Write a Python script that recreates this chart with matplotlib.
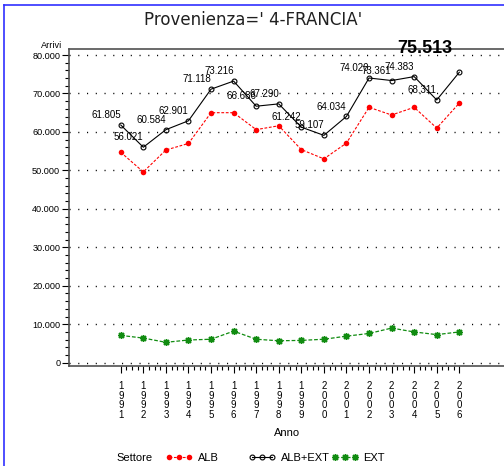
import matplotlib
matplotlib.use('Agg')
import matplotlib.pyplot as plt
from matplotlib.lines import Line2D
from matplotlib.ticker import MultipleLocator, FixedLocator, FuncFormatter

plt.rcParams['font.family'] = ['Liberation Sans', 'DejaVu Sans']

years = [1991, 1992, 1993, 1994, 1995, 1996, 1997, 1998,
         1999, 2000, 2001, 2002, 2003, 2004, 2005, 2006]
# arrivals (ALB+EXT are the printed labels)
alb = [54700, 49600, 55300, 57000, 65000, 65000, 60600, 61600,
       55400, 53000, 57100, 66400, 64400, 66400, 61000, 67500]
alb_ext = [61805, 56021, 60584, 62901, 71118, 73216, 66686, 67290,
           61242, 59107, 64034, 74020, 73361, 74383, 68311, 75513]
ext = [7100, 6400, 5300, 5900, 6100, 8200, 6100, 5700,
       5800, 6100, 6900, 7600, 9000, 8000, 7300, 8000]

title = "Provenienza=' 4-FRANCIA'"
green = '#118c11'


def fmt_num(v, pos=None):
    if v == 0:
        return '0'
    return '{:,.0f}'.format(v).replace(',', '.')


fig = plt.figure(figsize=(5.04, 4.66), dpi=100)
ax = fig.add_axes([69.3 / 504, 1 - 366 / 466, 1 - 69.3 / 504, (366 - 49) / 466])

ax.plot(years, alb, color='red', linestyle=(0, (2.5, 1.5)), linewidth=0.8,
        marker='o', markersize=4, markeredgewidth=0, label='ALB')
ax.plot(years, alb_ext, color='black', linestyle='-', linewidth=0.8,
        marker='o', markersize=3.5, markerfacecolor='none', markeredgewidth=0.8,
        label='ALB+EXT')
ax.plot(years, ext, color=green, linestyle=(0, (3, 1.5)), linewidth=0.9,
        marker=(8, 2, 0), markersize=5, markeredgewidth=1.0, label='EXT')

# value labels over the total line, the last one bigger
for i, (x, y) in enumerate(zip(years, alb_ext)):
    if i == len(years) - 1:
        ax.annotate(fmt_num(y), (x, y), xytext=(-5, 11), textcoords='offset points',
                    ha='right', va='bottom', fontsize=13, fontweight='bold',
                    family=['Liberation Sans Narrow', 'Liberation Sans'])
    else:
        ax.annotate(fmt_num(y), (x, y), xytext=(0, 3.5), textcoords='offset points',
                    ha='right', va='bottom', fontsize=7)

ax.set_xlim(1988.72, 2007.98)
ax.set_ylim(-858, 81560)

ax.yaxis.set_major_locator(MultipleLocator(10000))
ax.yaxis.set_minor_locator(MultipleLocator(2000))
ax.yaxis.set_major_formatter(FuncFormatter(fmt_num))
ax.set_xticks(years)
ax.set_xticklabels(['\n'.join(str(y)) for y in years], fontsize=7, linespacing=0.95)
quarters = [y + q / 4 for y in years[:-1] for q in (1, 2, 3)]
ax.xaxis.set_minor_locator(FixedLocator(quarters))

ax.tick_params(axis='y', which='major', length=5, width=0.8, labelsize=6.6, pad=1.5)
ax.tick_params(axis='y', which='minor', length=3, width=0.8)
ax.tick_params(axis='x', which='major', length=5, width=0.8, pad=6)
ax.tick_params(axis='x', which='minor', length=3, width=0.8)

ax.grid(axis='y', which='major', color='black', linestyle=(0, (0.8, 5.5)), linewidth=1.0)
ax.set_axisbelow(True)

for side in ['left', 'bottom', 'top']:
    ax.spines[side].set_color('#505050')
    ax.spines[side].set_linewidth(1.2)
ax.spines['right'].set_visible(False)

ax.set_xlabel('Anno', fontsize=8, labelpad=6)
fig.text(62 / 504, 1 - 45 / 466, 'Arrivi', fontsize=6.6, ha='right', va='center')
fig.text(253 / 504, 1 - 20 / 466, title, fontsize=12, ha='center', va='center',
         family='DejaVu Sans', color='#202020')

# legend row along the bottom
fig.text(116 / 504, 1 - 457.7 / 466, 'Settore', fontsize=8, ha='left', va='center')
handles, labels = ax.get_legend_handles_labels()
starts = [166, 249, 331.7]
for h, lab, x0 in zip(handles, labels, starts):
    fig.legend([h], [lab], loc='center left',
               bbox_to_anchor=(x0 / 504, 1 - 457.7 / 466), frameon=False,
               numpoints=3, handlelength=2.4, handletextpad=0.45,
               borderpad=0, borderaxespad=0, fontsize=8)

# blue page border on left and top
fig.add_artist(Line2D([4 / 504, 4 / 504], [0, 1 - 5 / 466], color='#3030ff', linewidth=1.2))
fig.add_artist(Line2D([4 / 504, 1], [1 - 5 / 466, 1 - 5 / 466], color='#3030ff', linewidth=1.2))

fig.savefig('out.png', dpi=100)
